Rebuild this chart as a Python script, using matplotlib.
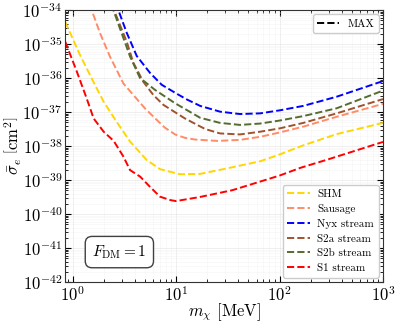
import matplotlib
matplotlib.use("Agg")
import matplotlib.pyplot as plt
import numpy as np

# masses in MeV, cross sections as log10(sigma_e / cm^2)
shm_m = [0.85, 1.18, 1.59, 2.0, 2.67, 3.6, 5.2, 7.0, 10.9, 17.1, 30.9, 64.9, 100, 170, 357, 1000]
shm_s = [-34.35, -35.32, -36.11, -36.70, -37.29, -37.87, -38.41, -38.68, -38.83, -38.82,
         -38.66, -38.45, -38.25, -37.98, -37.65, -37.32]

sausage_m = [1.45, 1.53, 1.85, 2.3, 3.1, 4.0, 5.0, 6.3, 7.8, 9.8, 12.2, 15.3, 25, 41.5,
             65, 101, 170, 357, 1000]
sausage_s = [-33.83, -34.0, -34.69, -35.37, -36.16, -36.55, -36.89, -37.19, -37.46, -37.66,
             -37.76, -37.81, -37.85, -37.82, -37.73, -37.6, -37.43, -37.14, -36.76]

nyx_m = [2.57, 2.77, 3.34, 4.17, 5.61, 7.28, 10, 12.7, 17.1, 26.6, 41.5, 64.9, 101, 170, 357, 1000]
nyx_s = [-33.8, -34.0, -34.67, -35.35, -35.85, -36.2, -36.45, -36.63, -36.82, -36.99,
         -37.06, -37.04, -36.95, -36.82, -36.55, -36.09]

s2a_m = [2.34, 2.51, 3.34, 3.87, 4.83, 6.04, 7.55, 12.2, 19.1, 26.6, 41.5, 64.9, 101, 170, 357, 1000]
s2a_s = [-33.85, -34.0, -34.93, -35.55, -36.11, -36.5, -36.79, -37.19, -37.5, -37.63,
         -37.66, -37.58, -37.48, -37.32, -37.04, -36.62]

s2b_m = [2.34, 2.48, 2.99, 3.6, 4.49, 6.27, 9.77, 17.1, 26.6, 41.5, 64.9, 101, 170, 357, 1000]
s2b_s = [-33.85, -34.0, -34.69, -35.37, -36.0, -36.35, -36.74, -37.17, -37.32, -37.38,
         -37.34, -37.25, -37.12, -36.89, -36.37]

s1_m = [0.85, 1.1, 1.37, 1.6, 2.0, 2.5, 3.1, 3.6, 4.5, 5.6, 7.0, 8.8, 10, 17, 35, 100, 160, 290, 1000]
s1_s = [-34.93, -35.81, -36.60, -37.19, -37.58, -37.85, -38.31, -38.71, -38.90, -39.20,
        -39.49, -39.59, -39.62, -39.50, -39.30, -38.87, -38.64, -38.40, -37.88]

series = [
    ("SHM", shm_m, shm_s, "#FFD700"),
    ("Sausage", sausage_m, sausage_s, "#FF8C69"),
    ("Nyx stream", nyx_m, nyx_s, "#0000FF"),
    ("S2a stream", s2a_m, s2a_s, "#A0522D"),
    ("S2b stream", s2b_m, s2b_s, "#556B2F"),
    ("S1 stream", s1_m, s1_s, "#FF0000"),
]

plt.rcParams["font.family"] = "serif"
plt.rcParams["font.serif"] = ["cmr10", "DejaVu Serif"]
plt.rcParams["mathtext.fontset"] = "cm"
plt.rcParams["axes.formatter.use_mathtext"] = True

fig = plt.figure(figsize=(3.99, 3.27), dpi=100)
ax = fig.add_axes([65 / 399, 1 - 282 / 327, 318 / 399, 272 / 327])

for label, m, s, colour in series:
    ax.plot(m, 10.0 ** np.array(s), ls="--", color=colour, lw=1.4, label=label)

ax.set_xscale("log")
ax.set_yscale("log")
ax.set_xlim(0.846, 1000)
ax.set_ylim(1e-42, 1e-34)
ax.set_yticks([10.0 ** k for k in range(-42, -33)])
ax.set_xticks([1, 10, 100, 1000])

ax.tick_params(which="both", direction="in", top=True, right=True, labelsize=12)
ax.tick_params(which="major", length=4, pad=2)
ax.tick_params(which="minor", length=2)
ax.grid(which="major", color="0.88", lw=0.6, alpha=0.6)
ax.grid(which="minor", color="0.93", lw=0.5, alpha=0.4)
for sp in ax.spines.values():
    sp.set_color("0.2")

ax.set_xlabel(r"$m_\chi$ [MeV]", fontsize=12)
ax.set_ylabel(r"$\bar{\sigma}_e\ \left[\mathrm{cm}^2\right]$", fontsize=12)
ax.xaxis.set_label_coords(0.5, -0.07)
ax.yaxis.set_label_coords(-0.13, 0.5)

leg = ax.legend(loc="lower right", fontsize=8, handlelength=2.0, handletextpad=0.7,
                framealpha=1, borderaxespad=0.4, labelspacing=0.45)
ax.add_artist(leg)
max_line, = ax.plot([], [], ls="--", color="black", lw=1.4, label="MAX")
ax.legend(handles=[max_line], loc="upper right", fontsize=8, handlelength=2.0,
          handletextpad=0.7, framealpha=1, borderaxespad=0.4)

ax.text(0.171, 0.11, r"$F_{\mathrm{DM}}=1$", transform=ax.transAxes, fontsize=11,
        ha="center", va="center",
        bbox=dict(boxstyle="round,pad=0.45", fc="white", ec="0.25", lw=1))

fig.savefig("out.png", dpi=100)
